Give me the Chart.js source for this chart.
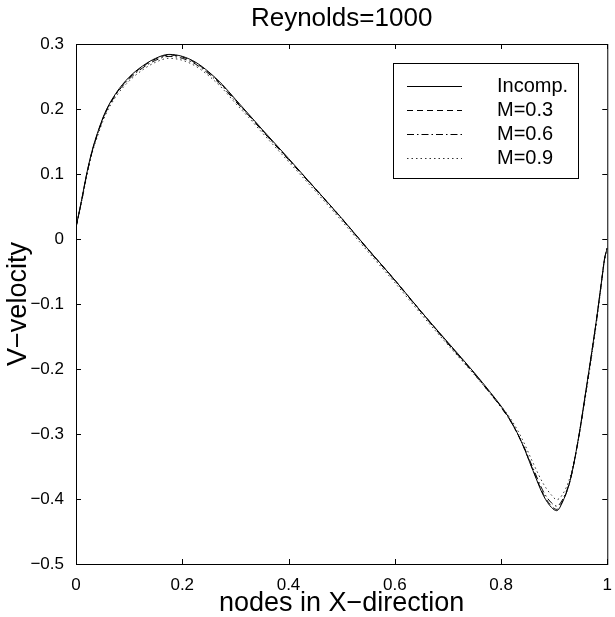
<!DOCTYPE html>
<html>
<head>
<meta charset="utf-8">
<title>Reynolds=1000</title>
<script src="https://cdn.jsdelivr.net/npm/chart.js@4.4.1/dist/chart.umd.min.js"></script>
<style>
    html, body { margin: 0; padding: 0; background: #ffffff; }
    #wrap { width: 615px; height: 617px; }
</style>
</head>
<body>
<div id="wrap"><canvas id="velocityChart" width="615" height="617"></canvas></div>
<script>
const chartTitle = 'Reynolds=1000';
const xTitle = 'nodes in X\u2212direction';
const yTitle = 'V\u2212velocity';
const seriesNames = ['Incomp.', 'M=0.3', 'M=0.6', 'M=0.9'];

const xNodes = [0, 0.005, 0.01, 0.02, 0.03, 0.04, 0.055, 0.075, 0.1, 0.125, 0.15,
    0.175, 0.2, 0.225, 0.25, 0.275, 0.3, 0.325, 0.35, 0.4, 0.45,
    0.5, 0.55, 0.6, 0.65, 0.7, 0.75, 0.78, 0.8, 0.82, 0.84,
    0.86, 0.88, 0.895, 0.905, 0.915, 0.93, 0.945, 0.96, 0.97, 0.98,
    0.99, 0.995, 1.0];

const incomp = [0.018, 0.038, 0.058, 0.1, 0.135, 0.162, 0.195, 0.224, 0.249, 0.266, 0.278,
    0.284, 0.281, 0.272, 0.257, 0.238, 0.215, 0.192, 0.169, 0.124, 0.078,
    0.032, -0.016, -0.063, -0.112, -0.159, -0.206, -0.236, -0.257, -0.282, -0.315,
    -0.356, -0.395, -0.413, -0.418, -0.406, -0.372, -0.31, -0.232, -0.178, -0.122,
    -0.06, -0.03, -0.014];

const mach03 = [0.018, 0.037, 0.057, 0.099, 0.134, 0.161, 0.194, 0.223, 0.248, 0.265, 0.277,
    0.283, 0.28, 0.271, 0.256, 0.237, 0.214, 0.191, 0.168, 0.123, 0.078,
    0.032, -0.016, -0.063, -0.112, -0.16, -0.207, -0.237, -0.258, -0.283, -0.315,
    -0.355, -0.393, -0.411, -0.416, -0.405, -0.372, -0.311, -0.233, -0.179, -0.123,
    -0.06, -0.03, -0.014];

const mach06 = [0.018, 0.037, 0.056, 0.098, 0.133, 0.16, 0.193, 0.222, 0.246, 0.263, 0.275,
    0.281, 0.278, 0.269, 0.254, 0.235, 0.212, 0.19, 0.167, 0.122, 0.077,
    0.031, -0.017, -0.064, -0.113, -0.161, -0.208, -0.238, -0.259, -0.283, -0.314,
    -0.352, -0.389, -0.406, -0.411, -0.402, -0.371, -0.311, -0.234, -0.18, -0.123,
    -0.061, -0.03, -0.014];

const mach09 = [0.018, 0.036, 0.055, 0.096, 0.131, 0.157, 0.19, 0.219, 0.243, 0.26, 0.272,
    0.278, 0.275, 0.266, 0.251, 0.232, 0.209, 0.187, 0.164, 0.119, 0.074,
    0.028, -0.02, -0.067, -0.116, -0.163, -0.209, -0.238, -0.257, -0.279, -0.308,
    -0.344, -0.377, -0.394, -0.401, -0.394, -0.366, -0.311, -0.237, -0.184, -0.127,
    -0.063, -0.031, -0.014];

const xTicks = [0, 0.2, 0.4, 0.6, 0.8, 1];
const yTicks = [-0.5, -0.4, -0.3, -0.2, -0.1, 0, 0.1, 0.2, 0.3];

const fontFamily = '"Liberation Sans", Arial, Helvetica, sans-serif';

function toPoints(values) {
    return xNodes.map((x, i) => ({ x: x, y: values[i] }));
}

function tickText(value) {
    if (value === 0) return '0';
    const s = String(Math.round(value * 10) / 10);
    return s.replace('-', '\u2212');
}

// frame, inward ticks, title and legend drawn the matlab way
const matlabAxes = {
    id: 'matlabAxes',
    afterDatasetsDraw(chart) {
        const { ctx, chartArea: a, scales } = chart;
        const len = 5;
        ctx.save();
        ctx.strokeStyle = '#000';
        ctx.lineWidth = 1;
        ctx.setLineDash([]);
        ctx.strokeRect(a.left + 0.5, a.top + 0.5, a.right - a.left, a.bottom - a.top);

        ctx.beginPath();
        xTicks.forEach(v => {
            const px = Math.round(scales.x.getPixelForValue(v)) + 0.5;
            ctx.moveTo(px, a.bottom);
            ctx.lineTo(px, a.bottom - len);
            ctx.moveTo(px, a.top);
            ctx.lineTo(px, a.top + len);
        });
        yTicks.forEach(v => {
            const py = Math.round(scales.y.getPixelForValue(v)) + 0.5;
            ctx.moveTo(a.left, py);
            ctx.lineTo(a.left + len, py);
            ctx.moveTo(a.right, py);
            ctx.lineTo(a.right - len, py);
        });
        ctx.stroke();

        ctx.fillStyle = '#000';
        ctx.font = '26px ' + fontFamily;
        ctx.textAlign = 'center';
        ctx.textBaseline = 'middle';
        ctx.fillText(chartTitle, (a.left + a.right) / 2, 19);

        // legend
        const box = { left: 393, top: 63, right: 578, bottom: 178 };
        ctx.fillStyle = '#fff';
        ctx.fillRect(box.left, box.top, box.right - box.left, box.bottom - box.top);
        ctx.strokeRect(box.left + 0.5, box.top + 0.5, box.right - box.left, box.bottom - box.top);
        ctx.font = '20px ' + fontFamily;
        ctx.textAlign = 'left';
        chart.data.datasets.forEach((ds, i) => {
            const y = 86 + i * 24;
            ctx.beginPath();
            ctx.strokeStyle = ds.borderColor;
            ctx.lineWidth = ds.borderWidth;
            ctx.setLineDash(ds.borderDash || []);
            ctx.moveTo(407, y + 0.5);
            ctx.lineTo(462, y + 0.5);
            ctx.stroke();
            ctx.fillStyle = '#000';
            ctx.fillText(ds.label, 497, y);
        });
        ctx.restore();
    }
};

function displayVelocityChart() {
    const ctx = document.getElementById('velocityChart').getContext('2d');
    const styles = [[], [6, 4], [7, 3, 1.5, 3], [1.5, 3]];
    const series = [incomp, mach03, mach06, mach09];

    new Chart(ctx, {
        type: 'line',
        data: {
            datasets: series.map((values, i) => ({
                label: seriesNames[i],
                data: toPoints(values),
                borderColor: i === 3 ? '#333' : '#000',
                borderWidth: 1,
                borderDash: styles[i],
                pointRadius: 0,
                fill: false,
                cubicInterpolationMode: 'monotone'
            }))
        },
        options: {
            responsive: false,
            animation: false,
            devicePixelRatio: 1,
            layout: { padding: { top: 44, left: 0, right: 3, bottom: 0 } },
            plugins: {
                legend: { display: false },
                title: { display: false },
                tooltip: { enabled: false }
            },
            scales: {
                x: {
                    type: 'linear',
                    min: 0,
                    max: 1,
                    afterFit: scale => { scale.height = 53; },
                    afterBuildTicks: scale => { scale.ticks = xTicks.map(v => ({ value: v })); },
                    grid: { display: false },
                    border: { display: false },
                    ticks: {
                        color: '#000',
                        padding: 3,
                        maxRotation: 0,
                        font: { family: fontFamily, size: 17 },
                        callback: v => tickText(v)
                    },
                    title: {
                        display: true,
                        text: xTitle,
                        color: '#000',
                        font: { family: fontFamily, size: 27, lineHeight: 1 },
                        padding: { top: 0, bottom: 0 }
                    }
                },
                y: {
                    type: 'linear',
                    min: -0.5,
                    max: 0.3,
                    afterFit: scale => { scale.width = 76; },
                    afterBuildTicks: scale => { scale.ticks = yTicks.map(v => ({ value: v })); },
                    grid: { display: false },
                    border: { display: false },
                    ticks: {
                        color: '#000',
                        padding: 4,
                        font: { family: fontFamily, size: 17 },
                        callback: v => tickText(v)
                    },
                    title: {
                        display: true,
                        text: yTitle,
                        color: '#000',
                        font: { family: fontFamily, size: 27, lineHeight: 1 },
                        padding: { top: 5, bottom: 0 }
                    }
                }
            }
        },
        plugins: [matlabAxes]
    });
}

displayVelocityChart();
</script>
</body>
</html>
